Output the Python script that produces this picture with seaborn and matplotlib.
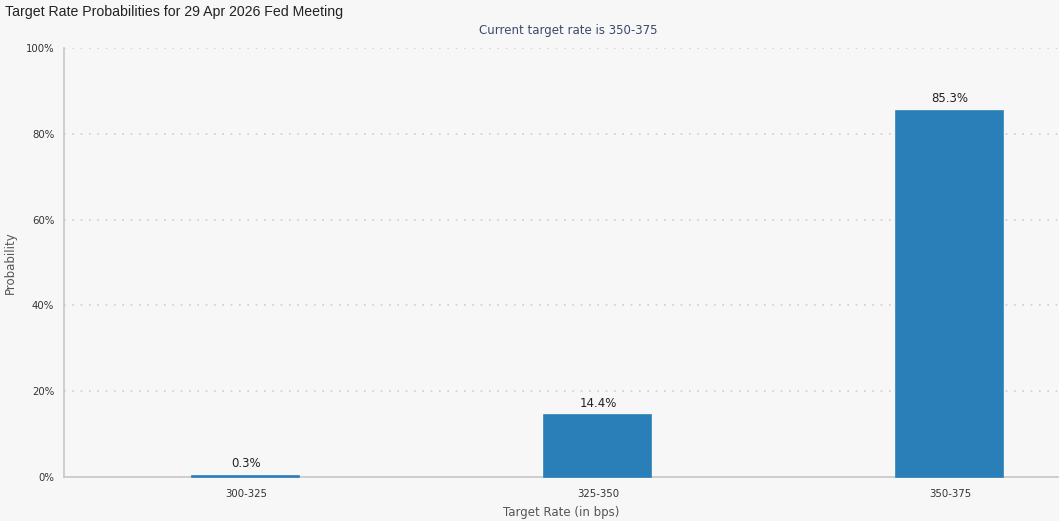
import matplotlib
matplotlib.use("Agg")
import matplotlib.pyplot as plt
import seaborn as sns
import pandas as pd
from matplotlib.ticker import FuncFormatter

categories = ["300-325", "325-350", "350-375"]
probabilities = [0.3, 14.4, 85.3]
labels = ["0.3%", "14.4%", "85.3%"]
y_ticks = [0, 20, 40, 60, 80, 100]

df = pd.DataFrame({"rate": categories, "prob": probabilities})

sns.set_theme(style="white")
plt.rcParams['font.family'] = ['DejaVu Sans']

bg = "#f7f7f7"
bar_color = "#2a7fb8"
fig = plt.figure(figsize=(10.59, 5.21), dpi=100, facecolor=bg)
ax = fig.add_axes([0.0604, 0.0845, 0.9396, 0.8235])
ax.set_facecolor(bg)

sns.barplot(data=df, x="rate", y="prob", color=bar_color, saturation=1,
            width=0.304, ax=ax, zorder=6, edgecolor=bar_color, linewidth=1.2)
for p in ax.patches:
    p.set_clip_on(False)

ax.set_xlim(-0.517, 2.31)
ax.set_ylim(0, 100)
ax.set_yticks(y_ticks)
ax.yaxis.set_major_formatter(FuncFormatter(lambda v, p: f"{int(v)}%"))
ax.grid(axis="y", color="#cfcfcf", linestyle=(0, (1, 4)), linewidth=1.2, zorder=0)

for s in ["top", "right"]:
    ax.spines[s].set_visible(False)
ax.spines["left"].set_color("#c8c8c8")
ax.spines["bottom"].set_color("#c8c8c8")
ax.spines["left"].set_linewidth(1.2)
ax.spines["bottom"].set_linewidth(1.2)
ax.spines["bottom"].set_zorder(2)

ax.tick_params(axis="both", colors="#c8c8c8", labelcolor="#333333", labelsize=7.3, length=5, width=1)
ax.tick_params(axis="x", pad=4)
ax.tick_params(axis="y", pad=2)

for i, (v, lab) in enumerate(zip(probabilities, labels)):
    ax.annotate(lab, (i, v), xytext=(0, 4), textcoords="offset points",
                ha="center", va="bottom", fontsize=8.5, color="#222222", zorder=7)

ax.set_xlabel("Target Rate (in bps)", fontsize=8.5, color="#555555", labelpad=5)
ax.set_ylabel("Probability", fontsize=8.5, color="#555555", labelpad=6)

fig.text(0.005, 0.99, "Target Rate Probabilities for 29 Apr 2026 Fed Meeting",
         ha="left", va="top", fontsize=10.2, color="#222222", family=["Liberation Sans"])
fig.text(0.537, 0.942, "Current target rate is 350-375", ha="center", va="center",
         fontsize=8.5, color="#3a4a6a")

fig.savefig("out.png", dpi=100, facecolor=bg)
